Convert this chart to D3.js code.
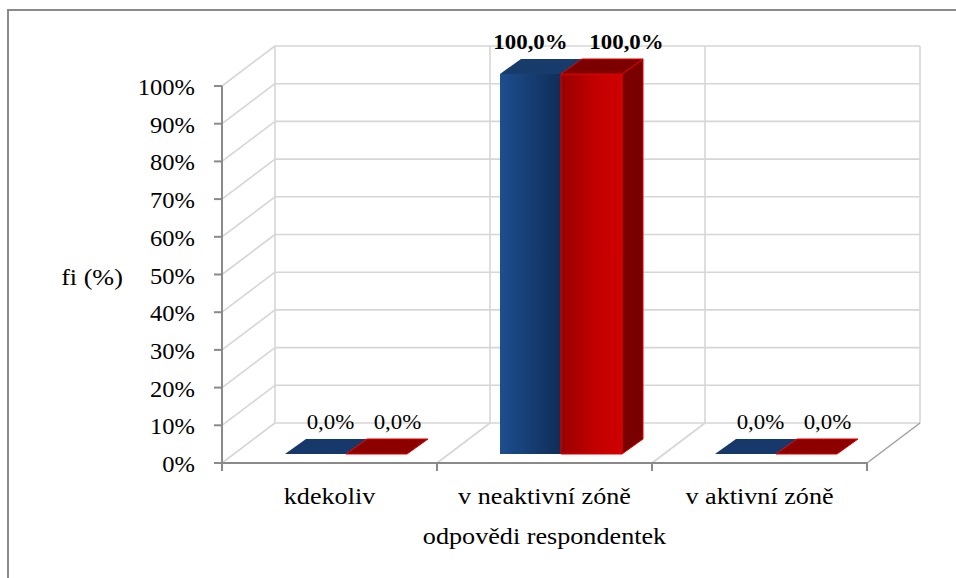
<!DOCTYPE html>
<html>
<head>
<meta charset="utf-8">
<script src="https://cdn.jsdelivr.net/npm/d3@7"></script>
</head>
<body style="margin:0;background:#fff">
<svg id="chart" width="956" height="578" style="display:block"></svg>
<script>
// Answers of respondents, share per category (0..1)
const categories = ["kdekoliv", "v neaktivní zóně", "v aktivní zóně"];
const seriesBlue = [0, 1, 0];
const seriesRed = [0, 1, 0];
const yTickValues = [0, 0.1, 0.2, 0.3, 0.4, 0.5, 0.6, 0.7, 0.8, 0.9, 1];
const yAxisTitle = "fi (%)";
const xAxisTitle = "odpovědi respondentek";

const FONT = "'Liberation Serif', 'Times New Roman', Times, serif";
const svg = d3.select("#chart");
const cz = d3.formatLocale({ decimal: ",", thousands: "\u00a0", grouping: [3], currency: ["", " Kč"] });
const fmtTick = cz.format(".0%");
const fmtLabel = cz.format(".1%");

// text is drawn slightly widened horizontally
const SX = 1.09;
function put(g, x, y, str, opts = {}) {
  return g.append("text")
    .attr("transform", `translate(${x},${y}) scale(${SX},1)`)
    .attr("font-family", FONT)
    .attr("fill", "#000")
    .attr("text-anchor", opts.anchor || "middle")
    .attr("font-size", opts.size || 22)
    .attr("font-weight", opts.weight || "normal")
    .text(str);
}

// 3D box geometry: floor front edge, wall depth offset
const x = d3.scaleBand().domain(categories).range([222, 867]).padding(0);
const y = d3.scaleLinear().domain([0, 1]).range([463, 86]);
const DX = 53, DY = -40;           // depth of the walls
const FX = 12;                      // x shift of bar front faces into the box
const BDX = 21, BDY = -15;          // depth of a bar
const yBar = d3.scaleLinear().domain([0, 1]).range([454, 74]);
const inner = d3.scaleBand().domain([0, 1]).range([51, 173]).padding(0);

// outer frame
svg.append("path").attr("d", "M8,578 V10 H956")
  .attr("fill", "none").attr("stroke", "#8a8a8a").attr("stroke-width", 2);

const grid = svg.append("g").attr("stroke", "#d6d6d6").attr("stroke-width", 1.6).attr("fill", "none");
const x0 = x.range()[0], x1 = x.range()[1];
// back wall horizontal grid lines + left wall diagonals
yTickValues.forEach(t => {
  grid.append("line").attr("x1", x0 + DX).attr("x2", x1 + DX).attr("y1", y(t) + DY).attr("y2", y(t) + DY);
  grid.append("line").attr("x1", x0).attr("y1", y(t)).attr("x2", x0 + DX).attr("y2", y(t) + DY);
});
// back wall verticals at category boundaries and floor diagonals
const bounds = categories.map(c => x(c)).concat([x1]);
bounds.forEach((b, i) => {
  grid.append("line").attr("x1", b + DX).attr("x2", b + DX).attr("y1", y(1) + DY).attr("y2", y(0) + DY);
  if (i > 0 && i < bounds.length - 1)
    grid.append("line").attr("x1", b).attr("y1", y(0)).attr("x2", b + DX).attr("y2", y(0) + DY);
});
// floor right edge
svg.append("line").attr("x1", x1).attr("y1", y(0)).attr("x2", x1 + DX).attr("y2", y(0) + DY)
  .attr("stroke", "#a0a0a0").attr("stroke-width", 1.5);

// axes
const axisCol = "#8a8a8a";
const ax = svg.append("g").attr("stroke", axisCol).attr("stroke-width", 2);
ax.append("line").attr("x1", x0).attr("x2", x0).attr("y1", y(1)).attr("y2", y(0));
ax.append("line").attr("x1", x0).attr("x2", x1).attr("y1", y(0)).attr("y2", y(0));
yTickValues.forEach(t => ax.append("line").attr("x1", x0 - 8).attr("x2", x0).attr("y1", y(t)).attr("y2", y(t)));
bounds.forEach(b => ax.append("line").attr("x1", b).attr("x2", b).attr("y1", y(0)).attr("y2", y(0) + 8));

const tl = svg.append("g");
yTickValues.forEach(t => put(tl, 195, y(t) + 9, fmtTick(t), { anchor: "end", size: 22.5 }));

// gradients
const defs = svg.append("defs");
function grad(id, stops) {
  const g = defs.append("linearGradient").attr("id", id).attr("x1", 0).attr("x2", 1).attr("y1", 0).attr("y2", 0);
  stops.forEach(([o, c]) => g.append("stop").attr("offset", o).attr("stop-color", c));
}
grad("blueFront", [[0, "#1d4e8e"], [1, "#0f2d58"]]);
grad("redFront", [[0, "#9a0000"], [0.6, "#c40000"], [1, "#d00000"]]);

const styles = [
  { front: "url(#blueFront)", top: "#173c6c", side: "#0d274d", stroke: "none", flat: "#17386a" },
  { front: "url(#redFront)", top: "#7c0000", side: "#7a0000", stroke: "#e00000", flat: "#8c0000" }
];
const series = [seriesBlue, seriesRed];

const bars = svg.append("g");
const labels = svg.append("g");
// label offsets for small and full bars, per series
const labelShift = { small: [15, 21], large: [0, 35] };

categories.forEach((c, ci) => {
  series.forEach((s, si) => {
    const v = s[ci];
    const st = styles[si];
    const bx0 = x(c) + FX + inner(si);
    const bx1 = bx0 + inner.bandwidth();
    const yb = yBar(0), yt = yBar(v);
    const g = bars.append("g").attr("stroke", st.stroke).attr("stroke-width", 1).attr("stroke-linejoin", "round");
    if (v > 0) {
      g.append("path").attr("fill", st.side)
        .attr("d", `M${bx1},${yt} L${bx1 + BDX},${yt + BDY} L${bx1 + BDX},${yb + BDY} L${bx1},${yb} Z`);
      g.append("rect").attr("x", bx0).attr("y", yt).attr("width", bx1 - bx0).attr("height", yb - yt).attr("fill", st.front);
    }
    g.append("path").attr("fill", v > 0 ? st.top : st.flat)
      .attr("d", `M${bx0},${yt} L${bx1},${yt} L${bx1 + BDX},${yt + BDY} L${bx0 + BDX},${yt + BDY} Z`);

    const big = v >= 0.5;
    const lx = (bx0 + bx1) / 2 + (big ? labelShift.large[si] : labelShift.small[si]);
    put(labels, lx, yt + BDY - 10, fmtLabel(v), { size: 21, weight: big ? "bold" : "normal" });
  });
});

// category labels and axis titles
const cl = svg.append("g");
categories.forEach(c => put(cl, x(c) + x.bandwidth() / 2, 504, c, { size: 24 }));
put(cl, (x0 + x1) / 2, 544, xAxisTitle, { size: 24 });
put(cl, 92, 285, yAxisTitle, { size: 24 });
</script>
</body>
</html>
